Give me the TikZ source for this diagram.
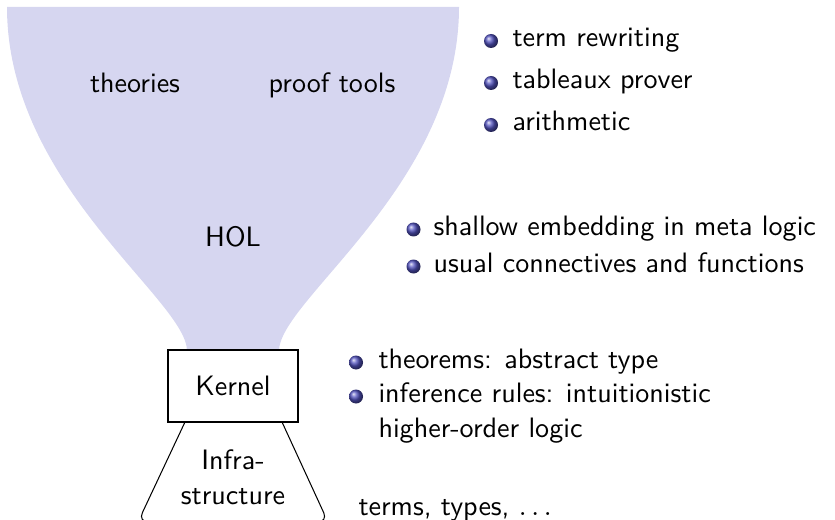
\documentclass[tikz,border=0pt]{standalone}
\usepackage{tikz}
\definecolor{struct}{rgb}{0.2,0.2,0.7}
\colorlet{funnelfill}{struct!20!white}
\tikzset{
  txt/.style={font=\sffamily\fontsize{10.95}{13.6}\selectfont, inner sep=0pt, text=black},
  item/.style={txt, anchor=base west},
  bul/.style={ball color=struct!85!white},
  box/.style={draw=black, line width=0.4pt, fill=white, txt,
              minimum width={130*0.39pt}, minimum height={72*0.39pt}},
  outline/.style={draw=black, line width=0.4pt, line join=round},
}
\begin{document}
\begin{tikzpicture}[x=0.39pt, y=-0.39pt]
\useasboundingbox (0,0) rectangle (835,520);

% the funnel of HOL
\fill[funnelfill] (7,7) -- (459,7)
  .. controls (459,185) and (279,300) .. (279,351)
  -- (187,351)
  .. controls (187,300) and (7,185) .. (7,7) -- cycle;
\node[txt, anchor=base] (theories) at (135,93) {theories};
\node[txt, anchor=base] (prooftools) at (332,93) {proof tools};
\node[txt, anchor=base] (hol) at (233,246) {HOL};

% infrastructure below the kernel
\coordinate (infTL) at (185,422);
\coordinate (infBL) at (138,522);
\coordinate (infBR) at (328,522);
\coordinate (infTR) at (282,422);
\draw[outline, rounded corners=4pt] (infTL) -- (infBL) -- (infBR) -- (infTR);
\node[txt, align=center] (infra) at (233,477.5) {Infra-\\structure};

% the kernel
\node[box] (kernel) at (233,386) {Kernel};

% proof tools
\shade[bul] (491,41) circle (7);
\node[item] (i1) at (512,47) {term rewriting};
\shade[bul] (491,83) circle (7);
\node[item] (i2) at (512,89) {tableaux prover};
\shade[bul] (491,125) circle (7);
\node[item] (i3) at (512,131) {arithmetic};

% HOL
\shade[bul] (413.5,229.5) circle (7);
\node[item] (h1) at (433,235) {shallow embedding in meta logic};
\shade[bul] (413.5,266.5) circle (7);
\node[item] (h2) at (433,272) {usual connectives and functions};

% kernel
\shade[bul] (356,362.5) circle (7);
\node[item] (k1) at (378,368) {theorems: abstract type};
\shade[bul] (356,396.5) circle (7);
\node[item] (k2) at (378,402) {inference rules: intuitionistic};
\node[item] (k3) at (378,437) {higher-order logic};

% infrastructure
\node[item] (t1) at (358,515) {terms, types, $\ldots$};
\end{tikzpicture}
\end{document}
